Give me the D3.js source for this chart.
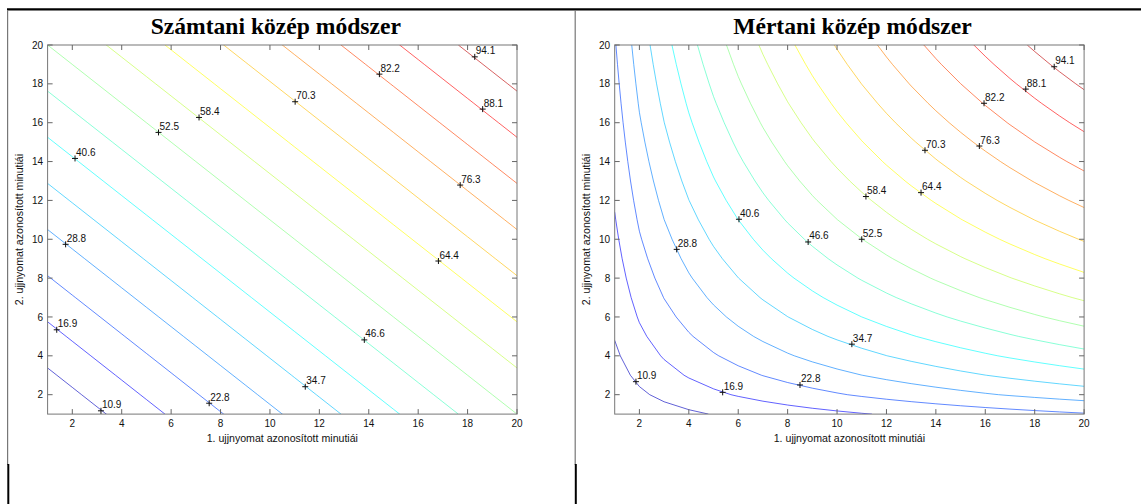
<!DOCTYPE html>
<html><head><meta charset="utf-8">
<script src="https://cdn.jsdelivr.net/npm/d3@7"></script>
<style>body{margin:0;background:#fff}svg{display:block}</style>
</head><body>
<svg id="chart" width="1141" height="504"></svg>
<script>
// ---------- data ----------
const gridX = [1,2,3,4,5,6,7,8,9,10,11,12,13,14,15,16,17,18,19,20];
const gridY = [1,2,3,4,5,6,7,8,9,10,11,12,13,14,15,16,17,18,19,20];
const levels = [10.9375,16.875,22.8125,28.75,34.6875,40.625,46.5625,52.5,58.4375,64.375,70.3125,76.25,82.1875,88.125,94.0625];
const levelLabels = ["10.9","16.9","22.8","28.8","34.7","40.6","46.6","52.5","58.4","64.4","70.3","76.3","82.2","88.1","94.1"];
const xTicks = [2,4,6,8,10,12,14,16,18,20];
const yTicks = [2,4,6,8,10,12,14,16,18,20];
const scoreMax = 100, minutiaeMax = 20;
// label positions (data coords)
const arithLabelX = [3.16,1.37,7.54,1.73,11.43,2.11,13.82,5.49,7.13,16.82,11.02,17.70,14.43,18.61,18.29];
const arithLabelY = [1.17,5.34,1.56,9.74,2.41,14.16,4.82,15.50,16.27,8.88,17.08,12.79,18.50,16.70,19.39];
const geoLabelX = [1.86,5.37,8.50,3.51,10.60,6.03,8.83,11.00,11.17,13.40,13.56,15.76,15.95,17.64,18.79];
const geoLabelY = [2.67,2.12,2.50,9.48,4.60,11.03,9.86,10.00,12.20,12.40,14.58,14.80,17.00,17.73,18.88];
const titles = ["Számtani közép módszer","Mértani közép módszer"];
const xLabel = "1. ujjnyomat azonosított minutiái";
const yLabel = "2. ujjnyomat azonosított minutiái";

// ---------- drawing ----------
const svg = d3.select("#chart");
function jet(t){
  const c = v => Math.max(0, Math.min(1, v));
  const r = c(Math.min(4*t-1.5, -4*t+4.5)), g = c(Math.min(4*t-0.5, -4*t+3.5)), b = c(Math.min(4*t+0.5, -4*t+2.5));
  return d3.rgb(r*255, g*255, b*255).toString();
}
const zMin = scoreMax*gridX[0]/minutiaeMax, zMax = scoreMax;
const color = d3.scaleLinear().domain([zMin, zMax]).range([0,1]);

// table frame
svg.append("line").attr("x1",7).attr("x2",1141).attr("y1",9.3).attr("y2",9.3).attr("stroke","#000").attr("stroke-width",2.2);
[[7.6,8.3],[575.2,575.8]].forEach(([xa,xb])=>{
  svg.append("line").attr("x1",xa).attr("x2",xa).attr("y1",10).attr("y2",465).attr("stroke","#777").attr("stroke-width",1.2);
  svg.append("line").attr("x1",xb).attr("x2",xb).attr("y1",464).attr("y2",504).attr("stroke","#000").attr("stroke-width",2);
});

const panels = [
  {x0:47.6, title:titles[0], tdx:-6.5, f:(a,b)=>scoreMax*((a+b)/2)/minutiaeMax, lx:arithLabelX, ly:arithLabelY},
  {x0:614.7, title:titles[1], tdx:3, f:(a,b)=>scoreMax*Math.sqrt(a*b)/minutiaeMax, lx:geoLabelX, ly:geoLabelY}
];
const W = 469.4, plotTop = 45, plotBottom = 414.1;

panels.forEach((p,pi)=>{
  const xS = d3.scaleLinear().domain([gridX[0], gridX[gridX.length-1]]).range([p.x0, p.x0+W]);
  const yS = d3.scaleLinear().domain([gridY[0], gridY[gridY.length-1]]).range([plotBottom, plotTop]);
  const g = svg.append("g");
  const clipId = "clip"+pi;
  svg.append("clipPath").attr("id",clipId).append("rect")
    .attr("x",xS.range()[0]).attr("y",plotTop).attr("width",W).attr("height",plotBottom-plotTop);

  // grid values
  const nx = gridX.length, ny = gridY.length;
  const values = new Array(nx*ny);
  for (let j=0;j<ny;j++) for (let i=0;i<nx;i++) values[j*nx+i] = p.f(gridX[i], gridY[j]);
  const cs = d3.contours().size([nx,ny]).thresholds(levels)(values);
  const stepX = gridX[1]-gridX[0], stepY = gridY[1]-gridY[0];
  const proj = d3.geoTransform({point:function(x,y){
    this.stream.point(xS(gridX[0]+(x-0.5)*stepX), yS(gridY[0]+(y-0.5)*stepY));
  }});
  const path = d3.geoPath(proj);
  g.append("g").attr("clip-path","url(#"+clipId+")")
    .selectAll("path").data(cs).join("path")
    .attr("d",path).attr("fill","none")
    .attr("stroke",d=>jet(color(d.value))).attr("stroke-opacity",0.62).attr("stroke-width",1);

  // axes box
  const ax = g.append("g").attr("font-family","Liberation Sans, Arial, sans-serif").attr("font-size",10).attr("fill","#111");
  ax.append("rect").attr("x",xS.range()[0]).attr("y",plotTop).attr("width",W).attr("height",plotBottom-plotTop)
    .attr("fill","none").attr("stroke","#777").attr("stroke-width",1);
  const tl = 5;
  xTicks.forEach(t=>{
    const x = xS(t);
    ax.append("line").attr("x1",x).attr("x2",x).attr("y1",plotBottom).attr("y2",plotBottom-tl).attr("stroke","#666");
    ax.append("line").attr("x1",x).attr("x2",x).attr("y1",plotTop).attr("y2",plotTop+tl).attr("stroke","#666");
    ax.append("text").attr("x",x).attr("y",plotBottom+13).attr("text-anchor","middle").text(t);
  });
  yTicks.forEach(t=>{
    const y = yS(t);
    ax.append("line").attr("x1",xS.range()[0]).attr("x2",xS.range()[0]+tl).attr("y1",y).attr("y2",y).attr("stroke","#666");
    ax.append("line").attr("x1",xS.range()[1]).attr("x2",xS.range()[1]-tl).attr("y1",y).attr("y2",y).attr("stroke","#666");
    ax.append("text").attr("x",xS.range()[0]-4.5).attr("y",y+3.6).attr("text-anchor","end").text(t);
  });
  const cx = (xS.range()[0]+xS.range()[1])/2;
  ax.append("text").attr("x",cx).attr("y",441.5).attr("text-anchor","middle").attr("font-size",10.6).text(xLabel);
  ax.append("text").attr("transform",`translate(${p.x0-25},${(plotTop+plotBottom)/2}) rotate(-90)`)
    .attr("text-anchor","middle").attr("font-size",10.6).text(yLabel);
  // title
  g.append("text").attr("x",cx+p.tdx).attr("y",34).attr("text-anchor","middle")
    .attr("font-family","Liberation Serif, Times New Roman, serif").attr("font-weight","bold").attr("font-size",23.6)
    .attr("fill","#000").text(p.title);

  // contour labels
  const lg = g.append("g").attr("font-family","Liberation Sans, Arial, sans-serif").attr("font-size",10).attr("fill","#111");
  levelLabels.forEach((lab,k)=>{
    const x = xS(p.lx[k]), y = yS(p.ly[k]);
    lg.append("path").attr("d",`M${x-3},${y}H${x+3}M${x},${y-3}V${y+3}`).attr("stroke","#111").attr("stroke-width",1);
    lg.append("text").attr("x",x+1).attr("y",y-2.5).text(lab);
  });
});
</script>
</body></html>
